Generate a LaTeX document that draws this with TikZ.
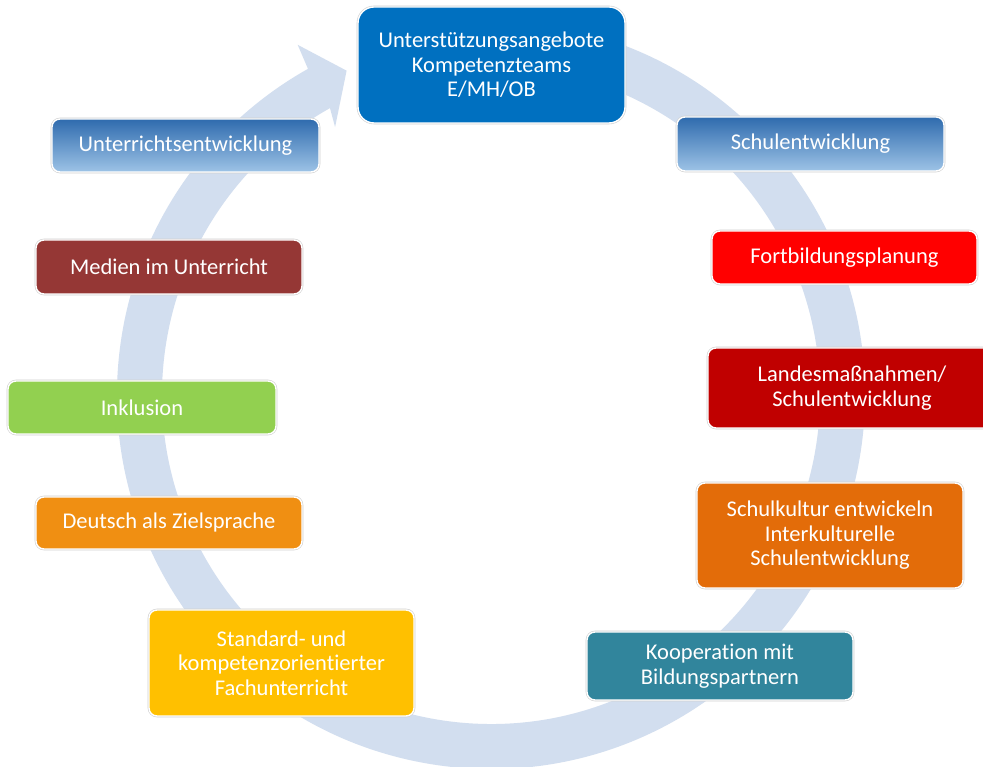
\documentclass[tikz,border=0pt]{standalone}
\usepackage{fontspec}
\setmainfont{Carlito}[Ligatures={NoCommon}]
\definecolor{ringc}{HTML}{D2DEEF}
\definecolor{cTop}{HTML}{0070C0}
\definecolor{gTop}{HTML}{2F6BAE}
\definecolor{gBot}{HTML}{9DC3E6}
\definecolor{cRed}{HTML}{FF0000}
\definecolor{cDark}{HTML}{C00000}
\definecolor{cOrD}{HTML}{E36C09}
\definecolor{cTeal}{HTML}{31859C}
\definecolor{cYel}{HTML}{FFC000}
\definecolor{cOr}{HTML}{F08F12}
\definecolor{cGreen}{HTML}{92D050}
\definecolor{cBrown}{HTML}{953735}
\begin{document}
\begin{tikzpicture}[x=1pt,y=1pt,
  box/.style={rectangle, rounded corners=8pt, inner sep=0pt, align=center,
    text=white, font=\fontsize{22.5}{24.5}\selectfont,
    draw=white, line width=1.4pt,
    preaction={draw=black!18, line width=2.6pt}},
  grad/.style={top color=gTop, bottom color=gBot}]
\useasboundingbox (0,0) rectangle (983,767);
\fill[white] (0,0) rectangle (983,767);
% circular arrow
\fill[ringc, shift={(491,372)}]
  (80:374) arc[start angle=80, end angle=-240.7, radius=374]
  -- (118.9:400) -- (114:355) -- (120.2:310) -- (119.3:329)
  arc[start angle=-240.7, end angle=80, radius=329] -- cycle;
% nodes
\node[box, fill=cTop, rounded corners=16pt, minimum width=267pt, minimum height=116pt]
  (top) at (491.5,702) {Unterstützungsangebote\\Kompetenzteams\\E/MH/OB};
\node[box, grad, minimum width=267pt, minimum height=54pt]
  (schul) at (810.5,623) {Schulentwicklung};
\node[box, fill=cRed, minimum width=265pt, minimum height=53pt]
  (fort) at (844.5,509.5) {Fortbildungsplanung};
\node[box, fill=cDark, minimum width=288pt, minimum height=80pt]
  (land) at (852,379) {Landesmaßnahmen/\\Schulentwicklung};
\node[box, fill=cOrD, minimum width=266pt, minimum height=105pt]
  (kult) at (830,231.5) {Schulkultur entwickeln\\Interkulturelle\\Schulentwicklung};
\node[box, fill=cTeal, minimum width=266pt, minimum height=68pt]
  (koop) at (720,101) {Kooperation mit\\Bildungspartnern};
\node[box, fill=cYel, minimum width=265pt, minimum height=106pt]
  (stand) at (281.5,104) {Standard- und\\kompetenzorientierter\\Fachunterricht};
\node[box, fill=cOr, minimum width=266pt, minimum height=52pt]
  (deut) at (169,244) {Deutsch als Zielsprache};
\node[box, fill=cGreen, minimum width=268pt, minimum height=53pt]
  (inkl) at (142,359.5) {Inklusion};
\node[box, fill=cBrown, minimum width=266pt, minimum height=54pt]
  (med) at (169,500) {Medien im Unterricht};
\node[box, grad, minimum width=267pt, minimum height=53pt]
  (unt) at (185.5,621.5) {Unterrichtsentwicklung};
\end{tikzpicture}
\end{document}
